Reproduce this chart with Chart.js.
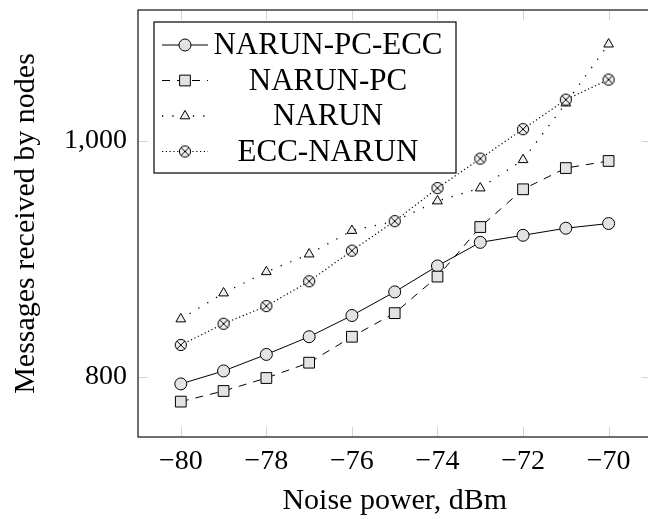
<!DOCTYPE html>
<html>
<head>
<meta charset="utf-8">
<script src="https://cdn.jsdelivr.net/npm/chart.js@4/dist/chart.umd.min.js"></script>
<style>
  html, body { margin: 0; padding: 0; background: #fff; overflow: hidden; }
  #wrap { width: 660px; height: 519px; }
</style>
</head>
<body>
<div id="wrap"><canvas id="chart"></canvas></div>
<script>
// noise power, dBm
const noisePower = [-80, -79, -78, -77, -76, -75, -74, -73, -72, -71, -70];
// messages received by nodes
const narunPcEcc = [794, 805, 819, 834, 852, 872, 894, 914, 920, 926, 930];
const narunPc    = [779, 788, 799, 812, 834, 854, 885, 927, 959, 977, 983];
const narun      = [849, 871, 889, 904, 924, 932, 949, 960, 984, 1032, 1082];
const eccNarun   = [827, 845, 860, 881, 907, 932, 960, 985, 1010, 1035, 1052];

const xTicks = [-80, -78, -76, -74, -72, -70];
const yTicks = [800, 1000];

const FONT = "'Liberation Serif', 'Times New Roman', serif";

// circle with a cross inside (the "otimes" mark)
function otimes() {
  const c = document.createElement('canvas');
  c.width = 14; c.height = 14;
  const g = c.getContext('2d');
  g.fillStyle = '#f0f0f0';
  g.strokeStyle = '#000';
  g.lineWidth = 1;
  g.beginPath(); g.arc(7, 7, 5.6, 0, Math.PI * 2); g.fill(); g.stroke();
  const d = 5.6 * Math.SQRT1_2;
  g.beginPath();
  g.moveTo(7 - d, 7 - d); g.lineTo(7 + d, 7 + d);
  g.moveTo(7 + d, 7 - d); g.lineTo(7 - d, 7 + d);
  g.stroke();
  return c;
}

function pts(ys) { return noisePower.map((x, i) => ({ x: x, y: ys[i] })); }

const datasets = [
  { label: 'NARUN-PC-ECC', data: pts(narunPcEcc), borderColor: '#000', borderWidth: 1,
    pointStyle: 'circle', pointRadius: 6, pointBackgroundColor: '#e3e3e3', pointBorderColor: '#000',
    pointBorderWidth: 1, order: 4 },
  { label: 'NARUN-PC', data: pts(narunPc), borderColor: '#000', borderWidth: 1, borderDash: [8, 7],
    pointStyle: 'rect', pointRadius: 7.6, pointBackgroundColor: '#e3e3e3', pointBorderColor: '#000',
    pointBorderWidth: 1, order: 3 },
  { label: 'NARUN', data: pts(narun), borderColor: '#000', borderWidth: 1.3, borderDash: [1.3, 9],
    pointStyle: 'triangle', pointRadius: 5.6, pointBackgroundColor: '#f0f0f0', pointBorderColor: '#000',
    pointBorderWidth: 1, order: 2 },
  { label: 'ECC-NARUN', data: pts(eccNarun), borderColor: '#000', borderWidth: 1.2, borderDash: [1.2, 2.6],
    pointStyle: otimes(), pointRadius: 6, pointBackgroundColor: '#f0f0f0', pointBorderColor: '#000',
    pointBorderWidth: 1, order: 1 }
];
datasets.forEach(d => { d.fill = false; d.tension = 0; });

// frame and inward tick marks, pgfplots style
const framePlugin = {
  id: 'frame',
  beforeDatasetsDraw(chart) {
    const ctx = chart.ctx, a = chart.chartArea;
    const xs = chart.scales.x, ys = chart.scales.y;
    ctx.save();
    ctx.strokeStyle = '#d4d4d4';
    ctx.lineWidth = 1;
    ctx.beginPath();
    xTicks.forEach(v => {
      const px = Math.round(xs.getPixelForValue(v)) + 0.5;
      ctx.moveTo(px, a.bottom); ctx.lineTo(px, a.bottom - 10);
      ctx.moveTo(px, a.top); ctx.lineTo(px, a.top + 10);
    });
    yTicks.forEach(v => {
      const py = Math.round(ys.getPixelForValue(v)) + 0.5;
      ctx.moveTo(a.left, py); ctx.lineTo(a.left + 10, py);
      ctx.moveTo(a.right, py); ctx.lineTo(a.right - 10, py);
    });
    ctx.stroke();
    ctx.restore();
  },
  afterDraw(chart) {
    const ctx = chart.ctx, a = chart.chartArea;
    ctx.save();
    ctx.strokeStyle = '#222';
    ctx.lineWidth = 1.3;
    ctx.strokeRect(a.left, a.top, a.right - a.left, a.bottom - a.top);
    ctx.restore();
  }
};

// boxed legend in the upper left, labels centred as in the original
const legendPlugin = {
  id: 'boxLegend',
  afterDraw(chart) {
    const ctx = chart.ctx, a = chart.chartArea;
    const bx = a.left + 16, by = a.top + 12, bw = 302, bh = 151;
    ctx.save();
    ctx.fillStyle = '#fff';
    ctx.fillRect(bx, by, bw, bh);
    ctx.strokeStyle = '#000';
    ctx.lineWidth = 1.2;
    ctx.strokeRect(bx, by, bw, bh);
    chart.data.datasets.forEach((d, i) => {
      const cy = by + 23 + i * 35.5;
      ctx.strokeStyle = d.borderColor;
      ctx.lineWidth = d.borderWidth;
      ctx.setLineDash(d.borderDash || []);
      ctx.beginPath();
      ctx.moveTo(bx + 8, cy); ctx.lineTo(bx + 54, cy);
      ctx.stroke();
      ctx.setLineDash([]);
      ctx.fillStyle = d.pointBackgroundColor;
      ctx.strokeStyle = d.pointBorderColor;
      ctx.lineWidth = d.pointBorderWidth;
      Chart.helpers.drawPoint(ctx, { pointStyle: d.pointStyle, radius: d.pointRadius,
        rotation: 0, borderWidth: d.pointBorderWidth }, bx + 31, cy);
      ctx.fillStyle = '#000';
      ctx.font = '31px ' + FONT;
      ctx.textAlign = 'center';
      ctx.textBaseline = 'middle';
      ctx.fillText(d.label, bx + 174, cy + 1);
    });
    ctx.restore();
  }
};

new Chart(document.getElementById('chart'), {
  type: 'line',
  data: { datasets: datasets },
  options: {
    responsive: true,
    maintainAspectRatio: false,
    animation: false,
    layout: { padding: { top: 10, right: 4, left: 0, bottom: 0 } },
    plugins: { legend: { display: false }, tooltip: { enabled: false } },
    scales: {
      x: {
        type: 'linear',
        min: -81, max: -69,
        grid: { display: false },
        border: { display: false },
        afterBuildTicks: s => { s.ticks = xTicks.map(v => ({ value: v })); },
        afterFit: s => { s.height = 82; s.paddingLeft = 0; s.paddingRight = 0; },
        ticks: {
          color: '#000', font: { family: FONT, size: 28 }, padding: 0,
          callback: v => (v < 0 ? '\u2212' + Math.abs(v) : String(v))
        },
        title: { display: true, text: 'Noise power, dBm', color: '#000',
                 font: { family: FONT, size: 30 }, padding: { top: 12, bottom: 0 } }
      },
      y: {
        type: 'linear',
        min: 749, max: 1111,
        grid: { display: false },
        border: { display: false },
        afterBuildTicks: s => { s.ticks = yTicks.map(v => ({ value: v })); },
        afterFit: s => { s.width = 138; s.paddingTop = 0; s.paddingBottom = 0; },
        ticks: {
          color: '#000', font: { family: FONT, size: 28 }, padding: 3,
          callback: v => v.toLocaleString('en-US')
        },
        title: { display: true, text: 'Messages received by nodes', color: '#000',
                 font: { family: FONT, size: 30 }, padding: { top: 8 } }
      }
    }
  },
  plugins: [framePlugin, legendPlugin]
});
</script>
</body>
</html>
